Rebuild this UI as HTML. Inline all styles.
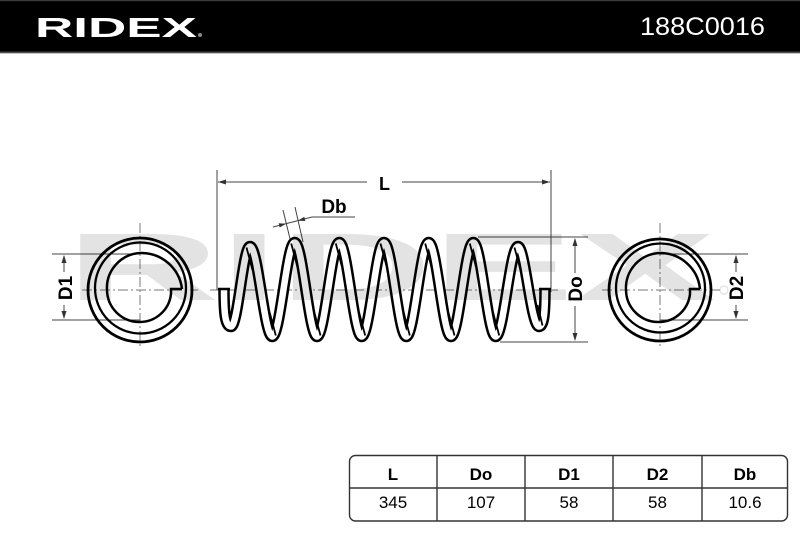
<!DOCTYPE html>
<html>
<head>
<meta charset="utf-8">
<style>
html,body{margin:0;padding:0;background:#fff;}
svg{display:block;}
</style>
</head>
<body>
<svg width="800" height="533" viewBox="0 0 800 533" xmlns="http://www.w3.org/2000/svg">
<rect width="800" height="533" fill="#fff"/>

<!-- Header -->
<rect x="0" y="0" width="800" height="53" fill="#000"/>
<rect x="0" y="0" width="800" height="1.2" fill="#3a3a3a"/>
<rect x="0" y="51.5" width="800" height="1.8" fill="#4a4a4a"/>
<text x="35" y="37" font-family="Liberation Sans, sans-serif" font-weight="bold" font-size="27.5" fill="#fff" textLength="162" lengthAdjust="spacingAndGlyphs">RIDEX</text>
<circle cx="200" cy="35" r="2" fill="#888"/>
<text x="640" y="35" font-family="Liberation Sans, sans-serif" font-size="25" fill="#fff" textLength="125" lengthAdjust="spacingAndGlyphs">188C0016</text>

<!-- Center lines (dash-dot) -->
<g stroke="#7a7a7a" stroke-width="1" fill="none" stroke-dasharray="10 3 2 3">
  <line x1="140" y1="223" x2="140" y2="348"/>
  <line x1="82" y1="290" x2="198" y2="290"/>
  <line x1="660" y1="223" x2="660" y2="348"/>
  <line x1="602" y1="290" x2="722" y2="290"/>
  <line x1="210" y1="290" x2="558" y2="290"/>
</g>

<!-- Dimension / extension lines -->
<g stroke="#444" stroke-width="1" fill="none">
  <line x1="217" y1="170" x2="217" y2="290"/>
  <line x1="551" y1="170" x2="551" y2="292"/>
  <line x1="218" y1="182" x2="367" y2="182"/>
  <line x1="402" y1="182" x2="550" y2="182"/>
  <line x1="52" y1="254" x2="140" y2="254"/>
  <line x1="52" y1="320" x2="140" y2="320"/>
  <line x1="64" y1="256" x2="64" y2="272"/>
  <line x1="64" y1="305" x2="64" y2="318"/>
  <line x1="478" y1="237" x2="588" y2="237"/>
  <line x1="500" y1="342" x2="588" y2="342"/>
  <line x1="575" y1="239" x2="575" y2="273"/>
  <line x1="575" y1="306" x2="575" y2="340"/>
  <line x1="660" y1="254" x2="748" y2="254"/>
  <line x1="660" y1="320" x2="748" y2="320"/>
  <line x1="736" y1="256" x2="736" y2="272"/>
  <line x1="736" y1="305" x2="736" y2="318"/>
  <line x1="283" y1="210" x2="292" y2="247"/>
  <line x1="295" y1="207" x2="303" y2="242"/>
  <polyline points="273,227 312,217 355,217"/>
</g>
<g fill="#333">
  <polygon points="218,182 226,179.5 226,184.5"/>
  <polygon points="550,182 542,179.5 542,184.5"/>
  <polygon points="64,255 61.5,263 66.5,263"/>
  <polygon points="64,319 61.5,311 66.5,311"/>
  <polygon points="575,238 572.5,246 577.5,246"/>
  <polygon points="575,341 572.5,333 577.5,333"/>
  <polygon points="736,255 733.5,263 738.5,263"/>
  <polygon points="736,319 733.5,311 738.5,311"/>
  <polygon points="286,223.7 279.7,227.5 278.7,223.3"/>
  <polygon points="298,220.6 305.3,221 304.3,216.8"/>
</g>

<!-- Labels -->
<g font-family="Liberation Sans, sans-serif" font-weight="bold" fill="#000">
  <text x="384.5" y="190" font-size="18" text-anchor="middle">L</text>
  <text x="334" y="213" font-size="19" text-anchor="middle">Db</text>
  <text transform="translate(65,288) rotate(-90)" y="7" font-size="19" text-anchor="middle">D1</text>
  <text transform="translate(575,289) rotate(-90)" y="7" font-size="19" text-anchor="middle">Do</text>
  <text transform="translate(736,288) rotate(-90)" y="7" font-size="19" text-anchor="middle">D2</text>
</g>

<!-- Left coil end view -->
<g fill="none" stroke="#000">
  <circle cx="140" cy="290" r="52" stroke-width="2.8"/>
  <circle cx="140.5" cy="288" r="45.5" stroke-width="2.3"/>
  <path d="M182,289 A41,41 0 0 0 140,253 A35,35 0 0 0 107,290 A32.5,32.5 0 0 0 140,322 A31.5,31.5 0 0 0 171,294 L171,289 L182,289" stroke-width="2.5" stroke-linejoin="miter"/>
</g>
<!-- Right coil end view -->
<g fill="none" stroke="#000">
  <circle cx="660" cy="290" r="51" stroke-width="2.8"/>
  <circle cx="660.5" cy="288" r="44.5" stroke-width="2.3"/>
  <path d="M700,289 A40,40 0 0 0 660,253 A35,35 0 0 0 626,290 A32.5,32.5 0 0 0 660,322 A31.5,31.5 0 0 0 690,294 L690,289 L700,289" stroke-width="2.5" stroke-linejoin="miter"/>
</g>

<!-- Spring side view -->
<g fill="none" stroke-linecap="butt" stroke-linejoin="round">
  <path d="M224,289 C224,312 225,326.5 231,326.5 C238,326.5 243,246.5 250,246.5 C258,246.5 264.3,336.5 272.3,336.5 C280.3,336.5 286.7,242.5 294.7,242.5 C302.7,242.5 309,336.5 317,336.5 C325,336.5 331.3,242.5 339.3,242.5 C347.3,242.5 353.7,336.5 361.7,336.5 C369.7,336.5 376,242.5 384,242.5 C392,242.5 398.3,336.5 406.3,336.5 C414.3,336.5 420.7,242.5 428.7,242.5 C436.7,242.5 443,336.5 451,336.5 C459,336.5 465.3,242.5 473.3,242.5 C481.3,242.5 487.7,336.5 495.7,336.5 C503.7,336.5 510,246.5 518,246.5 C525,246.5 531,326.5 539,326.5 C544,326.5 545,312 545,289" stroke="#000" stroke-width="11.5"/>
  <path d="M224,289 C224,312 225,326.5 231,326.5 C238,326.5 243,246.5 250,246.5 C258,246.5 264.3,336.5 272.3,336.5 C280.3,336.5 286.7,242.5 294.7,242.5 C302.7,242.5 309,336.5 317,336.5 C325,336.5 331.3,242.5 339.3,242.5 C347.3,242.5 353.7,336.5 361.7,336.5 C369.7,336.5 376,242.5 384,242.5 C392,242.5 398.3,336.5 406.3,336.5 C414.3,336.5 420.7,242.5 428.7,242.5 C436.7,242.5 443,336.5 451,336.5 C459,336.5 465.3,242.5 473.3,242.5 C481.3,242.5 487.7,336.5 495.7,336.5 C503.7,336.5 510,246.5 518,246.5 C525,246.5 531,326.5 539,326.5 C544,326.5 545,312 545,289" stroke="#fff" stroke-width="6.5"/>
</g>
<g stroke="#000" stroke-width="2.5" fill="none">
  <line x1="218" y1="289" x2="230" y2="289"/>
  <line x1="539" y1="289" x2="551" y2="289"/>
</g>
<!-- crossing lines inside arches / troughs -->
<g stroke="#000" stroke-width="1.8" fill="none">
  <line x1="246.5" y1="247.5" x2="252.5" y2="270"/>
  <line x1="291.2" y1="243.5" x2="297.2" y2="266"/>
  <line x1="335.8" y1="243.5" x2="341.8" y2="266"/>
  <line x1="380.5" y1="243.5" x2="386.5" y2="266"/>
  <line x1="425.2" y1="243.5" x2="431.2" y2="266"/>
  <line x1="469.8" y1="243.5" x2="475.8" y2="266"/>
  <line x1="514.5" y1="247.5" x2="520.5" y2="270"/>
  <line x1="275.8" y1="335.5" x2="269.8" y2="313"/>
  <line x1="320.5" y1="335.5" x2="314.5" y2="313"/>
  <line x1="365.2" y1="335.5" x2="359.2" y2="313"/>
  <line x1="409.8" y1="335.5" x2="403.8" y2="313"/>
  <line x1="454.5" y1="335.5" x2="448.5" y2="313"/>
  <line x1="499.2" y1="335.5" x2="493.2" y2="313"/>
  <line x1="542.5" y1="325.5" x2="537.5" y2="305"/>
</g>

<!-- Watermark -->
<text x="66" y="300" font-family="Liberation Sans, sans-serif" font-weight="bold" font-size="96" fill="#000" fill-opacity="0.11" textLength="650" lengthAdjust="spacingAndGlyphs">RIDEX</text>
<circle cx="724" cy="290" r="4" fill="none" stroke="#000" stroke-opacity="0.12" stroke-width="1.2"/>

<!-- Table -->
<g fill="none" stroke="#333" stroke-width="1.4">
  <rect x="349.5" y="455.5" width="438" height="65.5" rx="6" ry="6"/>
  <line x1="349.5" y1="488" x2="787.5" y2="488"/>
  <line x1="437" y1="455.5" x2="437" y2="521"/>
  <line x1="525" y1="455.5" x2="525" y2="521"/>
  <line x1="613" y1="455.5" x2="613" y2="521"/>
  <line x1="702" y1="455.5" x2="702" y2="521"/>
</g>
<g font-family="Liberation Sans, sans-serif" font-size="17" fill="#000" text-anchor="middle">
  <g font-weight="bold">
    <text x="393" y="480">L</text>
    <text x="481" y="480">Do</text>
    <text x="569" y="480">D1</text>
    <text x="657.5" y="480">D2</text>
    <text x="745" y="480">Db</text>
  </g>
  <text x="393" y="508">345</text>
  <text x="481" y="508">107</text>
  <text x="569" y="508">58</text>
  <text x="657.5" y="508">58</text>
  <text x="745" y="508">10.6</text>
</g>
</svg>
</body>
</html>
